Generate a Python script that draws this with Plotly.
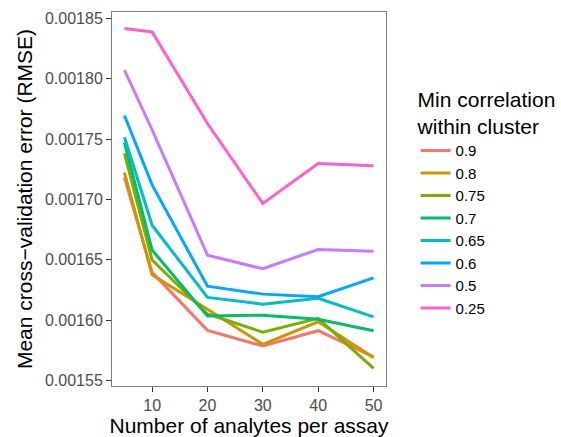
import plotly.graph_objects as go

x_vals = [5, 10, 20, 30, 40, 50]
groups = ["0.9", "0.8", "0.75", "0.7", "0.65", "0.6", "0.5", "0.25"]
colors = ["#F8766D", "#CD9600", "#7CAE00", "#00BE67", "#00BFC4", "#00A9FF", "#C77CFF", "#FF61CC"]

rmse_09 = [0.0017180, 0.0016395, 0.0015915, 0.0015785, 0.0015912, 0.0015696]
rmse_08 = [0.0017222, 0.0016375, 0.0016090, 0.0015799, 0.0015986, 0.0015689]
rmse_075 = [0.0017380, 0.0016497, 0.0016050, 0.0015900, 0.0016014, 0.0015600]
rmse_07 = [0.0017470, 0.0016580, 0.0016033, 0.0016041, 0.0016006, 0.0015912]
rmse_065 = [0.0017515, 0.0016786, 0.0016188, 0.0016132, 0.0016180, 0.0016027]
rmse_06 = [0.0017695, 0.0017120, 0.0016281, 0.0016215, 0.0016193, 0.0016350]
rmse_05 = [0.0018070, 0.0017575, 0.0016538, 0.0016425, 0.0016585, 0.0016571]
rmse_025 = [0.0018415, 0.0018387, 0.0017628, 0.0016966, 0.0017297, 0.0017278]

series = [rmse_09, rmse_08, rmse_075, rmse_07, rmse_065, rmse_06, rmse_05, rmse_025]

y_ticks = [0.00155, 0.00160, 0.00165, 0.00170, 0.00175, 0.00180, 0.00185]
x_ticks = [10, 20, 30, 40, 50]

fig = go.Figure()
for name, ys, c in zip(groups, series, colors):
    fig.add_trace(go.Scatter(x=x_vals, y=ys, mode="lines", name=name,
                             line=dict(color=c, width=3)))

font_family = "Liberation Sans, Arial, sans-serif"
fig.update_layout(
    width=561, height=437,
    margin=dict(l=112, r=175, t=12, b=51, autoexpand=False),
    paper_bgcolor="white", plot_bgcolor="white",
    font=dict(family=font_family, color="black"),
    showlegend=True,
    legend=dict(
        title=dict(text="Min correlation<br>within cluster", font=dict(size=21, color="black")),
        font=dict(size=15, color="black"),
        x=1.108, xanchor="left", y=0.819, yanchor="top",
        bgcolor="rgba(0,0,0,0)", tracegroupgap=0,
    ),
    xaxis=dict(
        range=[2.75, 52.25], tickvals=x_ticks, ticktext=[str(v) for v in x_ticks],
        showgrid=False, zeroline=False, showline=True, mirror=True,
        linecolor="#808080", linewidth=1, automargin=False,
        ticks="outside", ticklen=5, tickcolor="#333333", tickwidth=1,
        tickfont=dict(size=16, color="#4d4d4d"),
        title=dict(text="Number of analytes per assay", font=dict(size=21, color="black"), standoff=10),
    ),
    yaxis=dict(
        range=[0.0015454, 0.0018552], tickvals=y_ticks, tickformat=".5f",
        showgrid=False, zeroline=False, showline=True, mirror=True,
        linecolor="#808080", linewidth=1, automargin=False,
        ticks="outside", ticklen=5, tickcolor="#333333", tickwidth=1,
        tickfont=dict(size=16, color="#4d4d4d"),
        title=dict(text="Mean cross\u2212validation error (RMSE)", font=dict(size=21, color="black"), standoff=6),
    ),
)

fig.write_html("out.html")
